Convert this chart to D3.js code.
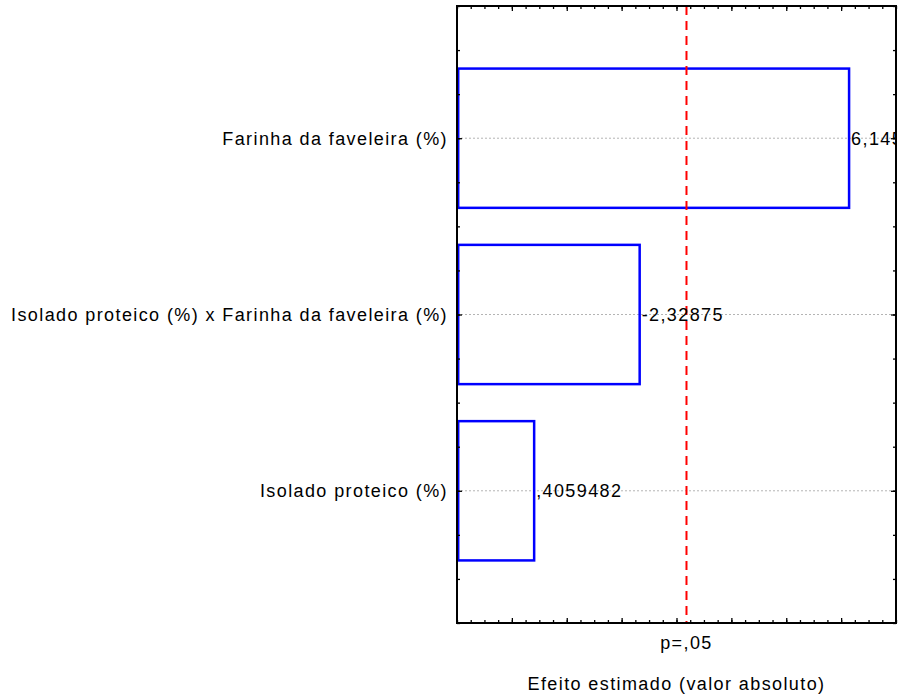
<!DOCTYPE html>
<html><head><meta charset="utf-8">
<script src="https://cdn.jsdelivr.net/npm/d3@7"></script>
<style>
html,body{margin:0;padding:0;background:#fff;}
text{font-family:Arial,"Liberation Sans",Helvetica,sans-serif;}
</style></head>
<body>
<svg id="chart" width="899" height="696"></svg>
<script>
// ---- data ----
const categories = ["Farinha da faveleira (%)", "Isolado proteico (%) x Farinha da faveleira (%)", "Isolado proteico (%)"];
const positions = [3, 2, 1];
const effects = [6.145, -2.32875, 0.4059482];
const effectLabels = ["6,145", "-2,32875", ",4059482"];
const pCritical = 3.182;
const pLabel = "p=,05";
const xTitle = "Efeito estimado (valor absoluto)";
const xDomain = [-1, 7];
const yDomain = [0.25, 3.75];

// ---- layout ----
const W = 899, H = 696;
const L = 457, R = 896, T = 6, B = 623;
const svg = d3.select("#chart");
const x = d3.scaleLinear().domain(xDomain).range([L, R]);
const y = d3.scaleLinear().domain(yDomain).range([B, T]);
const fs = 18, ls = 1.4;

svg.append("defs").append("clipPath").attr("id","plotclip")
  .append("rect").attr("x",L).attr("y",T).attr("width",R-L).attr("height",B-T);

// gridlines
svg.append("g").selectAll("line").data(positions).join("line")
  .attr("x1", L).attr("x2", R)
  .attr("y1", d => y(d)).attr("y2", d => y(d))
  .attr("stroke", "#b4b4b4").attr("stroke-width", 1).attr("stroke-dasharray", "2,2");

// bars
const barH = 0.79;
svg.append("g").selectAll("rect").data(effects).join("rect")
  .attr("x", x(xDomain[0]) + 1.2)
  .attr("y", (d,i) => y(positions[i] + barH/2))
  .attr("width", d => x(Math.abs(d)) - x(xDomain[0]) - 1.2)
  .attr("height", (d,i) => y(positions[i] - barH/2) - y(positions[i] + barH/2))
  .attr("fill", "none").attr("stroke", "#0000ff").attr("stroke-width", 2.5);

// critical line
svg.append("line")
  .attr("x1", x(pCritical)).attr("x2", x(pCritical))
  .attr("y1", T).attr("y2", B)
  .attr("stroke", "#ff0000").attr("stroke-width", 2).attr("stroke-dasharray", "9,6");

// value labels
svg.append("g").attr("clip-path","url(#plotclip)").selectAll("text").data(effects).join("text")
  .attr("x", d => x(Math.abs(d)) + 2)
  .attr("y", (d,i) => y(positions[i]) + 6.5)
  .attr("font-size", fs).attr("letter-spacing", ls).attr("fill", "#000")
  .text((d,i) => effectLabels[i]);

// axes ticks (inward)
const minorT = d3.range(xDomain[0], xDomain[1] + 0.001, 0.25);
const majorT = d3.range(0, xDomain[1], 1);
function ticksX(gen, yPos, vals, size) {
  svg.append("g").attr("transform", `translate(0,${yPos})`)
    .call(gen(x).tickValues(vals).tickSize(size).tickFormat(""))
    .call(g => g.select(".domain").remove())
    .call(g => g.selectAll("line").attr("stroke","#000").attr("stroke-width",1.3));
}
ticksX(d3.axisTop, B, minorT, 3);
ticksX(d3.axisTop, B, majorT, 5);
ticksX(d3.axisBottom, T, minorT, 3);
ticksX(d3.axisBottom, T, majorT, 5);
const minorY = d3.range(yDomain[0], yDomain[1] + 0.001, 0.25);
function ticksY(gen, xPos, vals, size) {
  svg.append("g").attr("transform", `translate(${xPos},0)`)
    .call(gen(y).tickValues(vals).tickSize(size).tickFormat(""))
    .call(g => g.select(".domain").remove())
    .call(g => g.selectAll("line").attr("stroke","#000").attr("stroke-width",1.3));
}
ticksY(d3.axisRight, L, minorY, 3);
ticksY(d3.axisRight, L, positions, 5);
ticksY(d3.axisLeft, R, minorY, 3);
ticksY(d3.axisLeft, R, positions, 5);

// frame
svg.append("rect").attr("x", L).attr("y", T).attr("width", R-L).attr("height", B-T)
  .attr("fill","none").attr("stroke","#000").attr("stroke-width",2);

// category labels
svg.append("g").selectAll("text").data(categories).join("text")
  .attr("x", L - 9).attr("y", (d,i) => y(positions[i]) + 6.5)
  .attr("text-anchor","end").attr("font-size", fs).attr("letter-spacing", ls)
  .text(d => d);

// p label and title
svg.append("text").attr("x", x(pCritical)).attr("y", 649)
  .attr("text-anchor","middle").attr("font-size", fs).attr("letter-spacing", ls).text(pLabel);
svg.append("text").attr("x", (L+R)/2).attr("y", 690)
  .attr("text-anchor","middle").attr("font-size", fs).attr("letter-spacing", ls).text(xTitle);
</script>
</body></html>
